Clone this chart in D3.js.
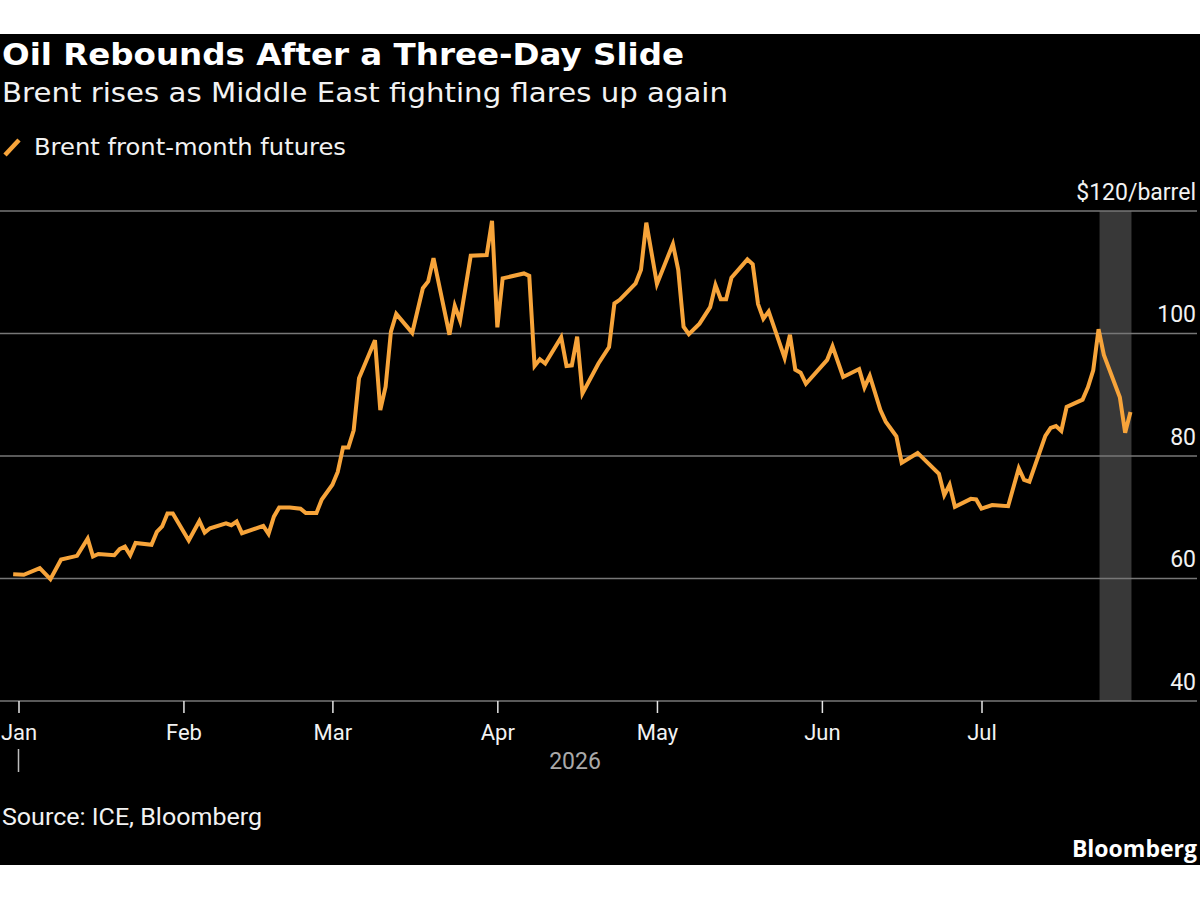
<!DOCTYPE html>
<html><head><meta charset="utf-8">
<script src="https://cdn.jsdelivr.net/npm/d3@7"></script>
<style>body{margin:0;background:#fff;} svg{display:block;}</style>
</head><body>
<svg id="chart" width="1200" height="900"></svg>
<script>
// ---- data ----
const dates = [
"2025-12-31","2026-01-02","2026-01-05","2026-01-07","2026-01-09","2026-01-12","2026-01-14","2026-01-15","2026-01-16",
"2026-01-19","2026-01-20","2026-01-21","2026-01-22","2026-01-23","2026-01-26","2026-01-27","2026-01-28","2026-01-29","2026-01-30",
"2026-02-02","2026-02-04","2026-02-05","2026-02-06","2026-02-09","2026-02-10","2026-02-11","2026-02-12","2026-02-16","2026-02-17",
"2026-02-18","2026-02-19","2026-02-21","2026-02-23","2026-02-24","2026-02-26","2026-02-27",
"2026-03-01","2026-03-02","2026-03-03","2026-03-04","2026-03-05","2026-03-06","2026-03-09","2026-03-10","2026-03-11","2026-03-12",
"2026-03-13","2026-03-16","2026-03-18","2026-03-19","2026-03-20","2026-03-23","2026-03-24","2026-03-25","2026-03-27","2026-03-30","2026-03-31",
"2026-04-01","2026-04-02","2026-04-06","2026-04-07","2026-04-08","2026-04-09","2026-04-10","2026-04-13","2026-04-14","2026-04-15",
"2026-04-16","2026-04-17","2026-04-20","2026-04-22","2026-04-23","2026-04-24","2026-04-27","2026-04-28","2026-04-29",
"2026-05-01","2026-05-04","2026-05-05","2026-05-06","2026-05-07","2026-05-09","2026-05-11","2026-05-12","2026-05-13","2026-05-14",
"2026-05-15","2026-05-18","2026-05-19","2026-05-20","2026-05-21","2026-05-22","2026-05-25","2026-05-26","2026-05-27","2026-05-28","2026-05-29",
"2026-06-02","2026-06-03","2026-06-05","2026-06-08","2026-06-09","2026-06-10","2026-06-12","2026-06-13","2026-06-15","2026-06-16",
"2026-06-19","2026-06-23","2026-06-24","2026-06-25","2026-06-26","2026-06-29","2026-06-30",
"2026-07-01","2026-07-03","2026-07-06","2026-07-08","2026-07-09","2026-07-10","2026-07-13","2026-07-14","2026-07-15","2026-07-16",
"2026-07-17","2026-07-20","2026-07-21","2026-07-22","2026-07-23","2026-07-24","2026-07-27","2026-07-28","2026-07-29"
];
const brent = [
60.7,60.6,61.7,59.9,63.1,63.7,66.5,63.6,64.0,
63.8,64.8,65.2,63.8,65.8,65.5,67.6,68.5,70.6,70.6,
66.2,69.4,67.5,68.2,69.0,68.7,69.3,67.4,68.6,67.3,
70.1,71.6,71.6,71.4,70.7,70.7,72.9,
75.3,77.4,81.4,81.4,84.2,92.7,98.9,87.5,91.3,100.3,
103.2,100.1,107.4,108.5,112.3,99.8,104.5,102.1,112.7,112.8,118.4,
101.0,109.0,109.8,109.4,94.7,95.8,95.1,99.4,94.7,94.8,
99.5,90.2,95.1,97.8,104.9,105.5,108.2,110.4,118.1,
108.1,114.6,110.4,101.1,99.9,101.6,104.3,107.9,105.6,105.6,
109.1,112.1,111.3,104.8,102.4,103.6,96.0,99.8,94.1,93.6,91.8,
95.7,97.9,92.9,94.2,91.2,93.1,87.5,85.6,83.2,78.9,
80.5,77.1,73.6,75.3,71.7,73.0,72.9,
71.4,72.0,71.8,78.0,76.1,75.8,83.3,84.6,84.9,84.1,
88.0,89.2,91.2,94.0,100.7,96.5,89.6,83.8,87.2
];
const yTicks = [40, 60, 80, 100, 120];
const yTickLabels = ["40", "60", "80", "100", "$120/barrel"];
const monthTicks = ["2026-01-01","2026-02-01","2026-03-01","2026-04-01","2026-05-01","2026-06-01","2026-07-01"];
const monthLabels = ["Jan","Feb","Mar","Apr","May","Jun","Jul"];
const shadeRange = ["2026-07-23","2026-07-29"];
const yearLabel = "2026";
const title = "Oil Rebounds After a Three-Day Slide";
const subtitle = "Brent rises as Middle East fighting flares up again";
const legendLabel = "Brent front-month futures";
const source = "Source: ICE, Bloomberg";

// ---- chart ----
const parse = d3.timeParse("%Y-%m-%d");
const data = dates.map((d, i) => ({date: parse(d), value: brent[i]}));
const svg = d3.select("#chart");
const ORANGE = "#f7a43a";
const GRID = "#777";

function fit(sel, w) {
  const n = sel.node();
  const cur = n.getComputedTextLength();
  if (Math.abs(cur - w) > 2) sel.attr("textLength", w).attr("lengthAdjust", "spacingAndGlyphs");
  return sel;
}

svg.append("rect").attr("x", 0).attr("y", 34).attr("width", 1200).attr("height", 831).attr("fill", "#000");

const x = d3.scaleTime().domain([parse("2026-01-01"), parse("2026-07-01")]).range([18.5, 981.5]);
const y = d3.scaleLinear().domain([40, 120]).range([701, 211]);

// shaded band
svg.append("rect")
  .attr("x", x(parse(shadeRange[0])) + 1)
  .attr("y", y(120))
  .attr("width", x(parse(shadeRange[1])) - x(parse(shadeRange[0])))
  .attr("height", y(40) - y(120))
  .attr("fill", "#383838");

// gridlines
svg.append("g").selectAll("line").data(yTicks).join("line")
  .attr("x1", 0).attr("x2", 1197)
  .attr("y1", d => y(d)).attr("y2", d => y(d))
  .attr("stroke", GRID).attr("stroke-width", 1.6);

// y axis labels
const yAxis = d3.axisRight(y).tickValues(yTicks).tickSize(0).tickPadding(0)
  .tickFormat((d, i) => yTickLabels[i]);
const gy = svg.append("g").attr("transform", "translate(1196,0)").call(yAxis);
gy.select(".domain").remove();
gy.selectAll("text").attr("text-anchor", "end").attr("dy", "-12")
  .attr("fill", "#f2f2f2").style("font-family", "Roboto, sans-serif").style("font-size", "23px");

// x axis
const xAxis = d3.axisBottom(x).tickValues(monthTicks.map(parse)).tickSize(12).tickPadding(11)
  .tickFormat((d, i) => monthLabels[i]);
const gx = svg.append("g").attr("transform", "translate(0,701)").call(xAxis);
gx.select(".domain").remove();
gx.selectAll(".tick line").attr("stroke", "#e6e6e6").attr("stroke-width", 1.5);
gx.selectAll("text").attr("fill", "#f2f2f2").style("font-family", "Roboto, sans-serif").style("font-size", "22px");

// year marker
svg.append("line").attr("x1", x(parse(monthTicks[0]))).attr("x2", x(parse(monthTicks[0])))
  .attr("y1", 749).attr("y2", 772).attr("stroke", "#bdbdbd").attr("stroke-width", 1.5);
svg.append("text").attr("x", 575).attr("y", 769).attr("text-anchor", "middle")
  .attr("fill", "#a9a9a9").style("font-family", "Roboto, sans-serif").style("font-size", "23px").text(yearLabel);

// line
const line = d3.line().x(d => x(d.date)).y(d => y(d.value));
svg.append("path").datum(data).attr("d", line)
  .attr("fill", "none").attr("stroke", ORANGE).attr("stroke-width", 4)
  .attr("stroke-linejoin", "miter").attr("stroke-miterlimit", 4);

// titles
fit(svg.append("text").attr("x", 2).attr("y", 65).attr("fill", "#fff")
  .style("font-family", "'DejaVu Sans', sans-serif").style("font-weight", "bold").style("font-size", "31px")
  .text(title), 682);
fit(svg.append("text").attr("x", 2).attr("y", 102).attr("fill", "#f2f2f2")
  .style("font-family", "'DejaVu Sans', sans-serif").style("font-size", "27px")
  .text(subtitle), 726);

// legend
svg.append("line").attr("x1", 5).attr("y1", 155).attr("x2", 19).attr("y2", 140)
  .attr("stroke", ORANGE).attr("stroke-width", 4.5);
fit(svg.append("text").attr("x", 34).attr("y", 155).attr("fill", "#f2f2f2")
  .style("font-family", "'DejaVu Sans', sans-serif").style("font-size", "23px")
  .text(legendLabel), 312);

// source
fit(svg.append("text").attr("x", 2).attr("y", 825).attr("fill", "#f2f2f2")
  .style("font-family", "Roboto, sans-serif").style("font-size", "23px")
  .text(source), 260);
svg.append("text").attr("x", 1197).attr("y", 857).attr("text-anchor", "end").attr("fill", "#fff")
  .style("font-family", "'Open Sans', sans-serif").style("font-weight", "bold").style("font-size", "23px")
  .text("Bloomberg");
</script>
</body></html>
